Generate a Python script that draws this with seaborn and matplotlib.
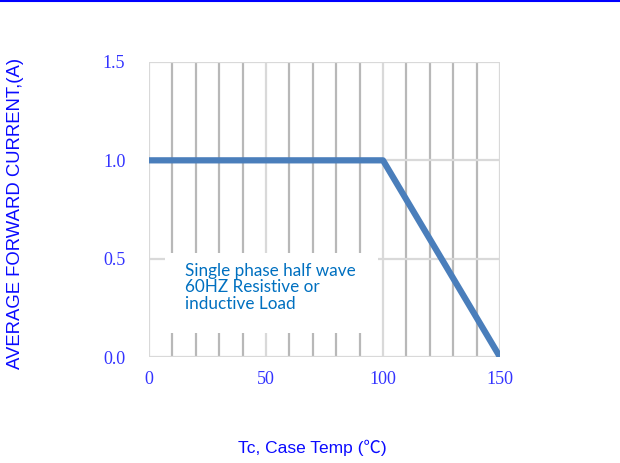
import numpy as np
import pandas as pd
import matplotlib
matplotlib.use("Agg")
import matplotlib.pyplot as plt
import seaborn as sns
from matplotlib.patches import Rectangle
from matplotlib.lines import Line2D

# derating curve
case_temp = [0, 100, 150]
fwd_current = [1.0, 1.0, 0.0]
x_ticks = [0, 50, 100, 150]
y_ticks = [0.0, 0.5, 1.0, 1.5]
note = "Single phase half wave\n60HZ Resistive or\ninductive Load"

sns.set_style("white")

df = pd.DataFrame({"Tc": case_temp, "I": fwd_current})

fig = plt.figure(figsize=(6.2, 4.63), dpi=100)
ax = fig.add_axes([149/620, 1 - 357/463, 351/620, 295/463])

# grid: light majors, darker minors every 10
for xv in np.arange(10, 150, 10):
    if xv % 50:
        ax.axvline(xv, color="#b8b8b8", lw=1.6, zorder=1)
for xv in x_ticks:
    ax.axvline(xv, color="#d9d9d9", lw=1.6, zorder=1)
for yv in y_ticks:
    ax.axhline(yv, color="#d9d9d9", lw=1.6, zorder=1)

# white note box
ax.add_patch(Rectangle((7, 0.122), 91, 0.407, facecolor="white",
                       edgecolor="none", zorder=2))
ax.text(15.4, 0.48, note, color="#0070c0", fontsize=12.3, family="Lato",
        va="top", ha="left", linespacing=1.05, zorder=3)

sns.lineplot(data=df, x="Tc", y="I", color="#4a7ebb", lw=4.5, ax=ax,
             zorder=4, solid_capstyle="butt")

ax.set_xlim(0, 150)
ax.set_ylim(0, 1.5)
ax.set_xticks(x_ticks)
ax.set_yticks(y_ticks)
ax.set_xticklabels([str(v) for v in x_ticks], family="Liberation Serif",
                   fontsize=13, color="#3333ff")
ax.set_yticklabels([f"{v:.1f}" for v in y_ticks], family="Liberation Serif",
                   fontsize=13, color="#3333ff")
ax.tick_params(axis="x", length=0, pad=10)
ax.tick_params(axis="y", length=0, pad=17)
for s in ax.spines.values():
    s.set_visible(False)

ax.set_xlabel("Tc, Case Temp (℃)", family=["Liberation Sans", "Noto Sans CJK SC"],
              fontsize=12.5, color="#0a0aff")
ax.xaxis.set_label_coords((312 - 149) / 351, (357 - 440) / 295)
ax.set_ylabel("AVERAGE FORWARD CURRENT,(A)", family="Liberation Sans",
              fontsize=13.3, color="#0a0aff")
ax.yaxis.set_label_coords((24 - 149) / 351, (357 - 213) / 295)

fig.add_artist(Line2D([0, 1], [0.998, 0.998], color="#0000ff", lw=1.5,
                      transform=fig.transFigure))

fig.savefig("out.png", dpi=100)
